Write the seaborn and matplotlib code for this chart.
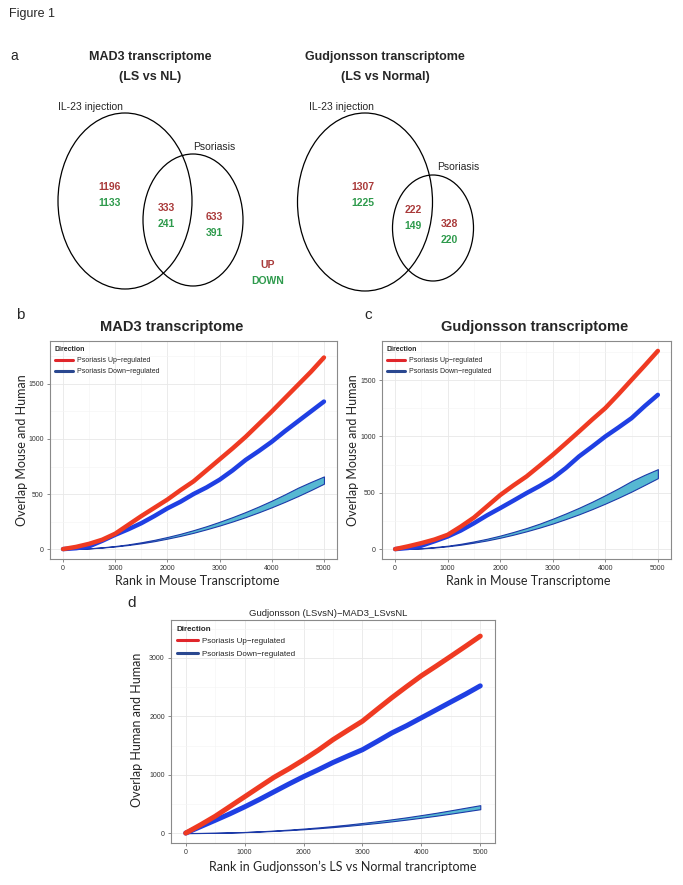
import numpy as np
import pandas as pd
import matplotlib
matplotlib.use("Agg")
import matplotlib.pyplot as plt
import seaborn as sns
from matplotlib.patches import Ellipse
from matplotlib.lines import Line2D
from matplotlib.ticker import MultipleLocator

# ---------------- data ----------------
mad3_up = [1196, 333, 633]
mad3_down = [1133, 241, 391]
gud_up = [1307, 222, 328]
gud_down = [1225, 149, 220]

rank = [0, 250, 500, 750, 1000, 1250, 1500, 1750, 2000, 2250, 2500,
        2750, 3000, 3250, 3500, 3750, 4000, 4250, 4500, 4750, 5000]

b_up = [0, 20, 48, 85, 140, 220, 300, 375, 450, 535, 615, 715, 815, 915,
        1020, 1135, 1250, 1370, 1490, 1610, 1740]
b_down = [0, 8, 25, 75, 130, 180, 235, 300, 370, 430, 500, 560, 630, 715,
          810, 890, 975, 1070, 1160, 1250, 1340]
b_lo = [0, 2, 6, 14, 24, 37, 53, 72, 95, 120, 148, 180, 214, 251, 291, 334,
        380, 429, 481, 536, 594]
b_hi = [0, 3, 7, 16, 28, 43, 62, 84, 110, 139, 172, 208, 248, 291, 337, 387,
        440, 497, 557, 610, 660]

c_up = [0, 25, 53, 85, 127, 200, 280, 380, 480, 565, 645, 740, 837, 940,
        1044, 1150, 1252, 1375, 1503, 1630, 1760]
c_down = [0, 10, 30, 70, 112, 165, 230, 300, 364, 430, 497, 560, 630, 720,
          823, 910, 1000, 1080, 1163, 1270, 1370]
c_lo = [0, 2, 6, 14, 25, 39, 57, 77, 101, 128, 158, 191, 227, 267, 309, 355,
        404, 456, 511, 570, 630]
c_hi = [0, 3, 8, 18, 30, 47, 68, 92, 120, 152, 187, 226, 270, 317, 367, 421,
        479, 540, 605, 660, 710]

d_up = [0, 140, 288, 455, 622, 790, 956, 1100, 1255, 1420, 1600, 1760, 1917,
        2120, 2320, 2510, 2695, 2860, 3029, 3200, 3374]
d_down = [0, 110, 219, 330, 449, 575, 708, 840, 967, 1085, 1209, 1320, 1428,
          1570, 1716, 1840, 1975, 2110, 2246, 2380, 2522]
d_lo = [0, 1, 4, 9, 16, 26, 37, 50, 65, 83, 102, 124, 148, 173, 201, 231, 263,
        297, 333, 371, 409]
d_hi = [0, 2, 5, 11, 19, 30, 43, 59, 77, 97, 120, 145, 173, 203, 236, 270,
        308, 347, 390, 434, 478]

UP_LABEL = "Psoriasis Up\u2212regulated"
DOWN_LABEL = "Psoriasis Down\u2212regulated"

# ---------------- style ----------------
sns.set_theme(style="white")
plt.rcParams["font.family"] = ["Liberation Sans", "DejaVu Sans"]

W, H = 683, 885
fig = plt.figure(figsize=(W / 100, H / 100), dpi=100)


def fx(x):
    return x / W


def fy(y):
    return 1 - y / H


def add_ax(l, t, r, b):
    return fig.add_axes([l / W, 1 - b / H, (r - l) / W, (b - t) / H])


# overlay in pixel coords for venn + annotations
ov = fig.add_axes([0, 0, 1, 1], zorder=-1)
ov.set_xlim(0, W)
ov.set_ylim(H, 0)
ov.axis("off")

RED_T = "#a93a3a"
GREEN_T = "#2e9a4c"

fig.text(fx(9), fy(14), "Figure 1", fontsize=9, va="center", ha="left")
fig.text(fx(10), fy(56), "a", fontsize=10, va="center", ha="left")


def venn(cx_big, cy_big, w_big, h_big, cx_s, cy_s, w_s, h_s,
         title1, title2, tx, il_pos, ps_pos, up, down, num_pos):
    ov.add_patch(Ellipse((cx_big, cy_big), w_big, h_big, fill=False,
                         ec="black", lw=0.9))
    ov.add_patch(Ellipse((cx_s, cy_s), w_s, h_s, fill=False,
                         ec="black", lw=0.9))
    ov.text(tx, 57, title1, fontsize=9, fontweight="bold", ha="center",
            va="center")
    ov.text(tx, 77, title2, fontsize=9, fontweight="bold", ha="center",
            va="center")
    ov.text(il_pos[0], il_pos[1], "IL-23 injection", fontsize=7.5,
            ha="left", va="center")
    ov.text(ps_pos[0], ps_pos[1], "Psoriasis", fontsize=7.5, ha="left",
            va="center")
    for (x, y), u, d in zip(num_pos, up, down):
        ov.text(x, y, str(u), color=RED_T, fontsize=7.5, fontweight="bold",
                ha="center", va="center")
        ov.text(x, y + 16, str(d), color=GREEN_T, fontsize=7.5,
                fontweight="bold", ha="center", va="center")


venn(125, 201, 134, 176, 193, 220, 100, 132,
     "MAD3 transcriptome", "(LS vs NL)", 150, (58, 107), (193, 147),
     mad3_up, mad3_down, [(110, 187), (166, 208), (214, 217)])
venn(365, 202, 135, 178, 433, 228, 81, 106,
     "Gudjonsson transcriptome", "(LS vs Normal)", 385, (309, 107),
     (437, 167), gud_up, gud_down, [(363, 187), (413, 210), (449, 224)])

ov.text(268, 265, "UP", color=RED_T, fontsize=7.5, fontweight="bold",
        ha="center", va="center")
ov.text(268, 281, "DOWN", color=GREEN_T, fontsize=7.5, fontweight="bold",
        ha="center", va="center")

# ---------------- line panels ----------------
RED = "#ef3a22"
BLUE = "#1f3fe3"
BAND_FILL = "#56b8d2"
BAND_EDGE = "#1c3aa8"
LABEL_FONT = ["Lato", "DejaVu Sans"]


def panel(ax, up, down, lo, hi, ylim, ymajor, yminor, legend_fs, lw):
    df = pd.DataFrame({
        "Rank": rank + rank,
        "Overlap": up + down,
        "Direction": [UP_LABEL] * len(rank) + [DOWN_LABEL] * len(rank),
    })
    ax.fill_between(rank, lo, hi, facecolor=BAND_FILL, edgecolor=BAND_EDGE,
                    lw=0.8, zorder=2)
    sns.lineplot(data=df, x="Rank", y="Overlap", hue="Direction",
                 hue_order=[DOWN_LABEL, UP_LABEL],
                 palette={UP_LABEL: RED, DOWN_LABEL: BLUE},
                 lw=lw, legend=False, ax=ax, zorder=3)
    ax.set_xlim(-250, 5250)
    ax.set_ylim(*ylim)
    ax.xaxis.set_major_locator(MultipleLocator(1000))
    ax.xaxis.set_minor_locator(MultipleLocator(500))
    ax.yaxis.set_major_locator(MultipleLocator(ymajor))
    ax.yaxis.set_minor_locator(MultipleLocator(yminor))
    ax.grid(True, which="major", color="#e8e8e8", lw=0.6)
    ax.grid(True, which="minor", color="#f4f4f4", lw=0.4)
    ax.set_axisbelow(True)
    for s in ax.spines.values():
        s.set_color("#8a8a8a")
        s.set_linewidth(0.8)
    ax.tick_params(axis="both", which="major", length=2.5, width=0.6,
                   color="#777777", labelsize=5, labelcolor="#333333",
                   pad=2, bottom=True, left=True)
    ax.tick_params(axis="both", which="minor", length=0)
    ax.set_xlabel("")
    ax.set_ylabel("")
    handles = [Line2D([], [], color="#e0262b", lw=2.2),
               Line2D([], [], color="#2a4890", lw=2.2)]
    leg = ax.legend(handles=handles, labels=[UP_LABEL, DOWN_LABEL],
                    title="Direction", loc="upper left", frameon=False,
                    fontsize=legend_fs, title_fontsize=legend_fs,
                    handlelength=2.6, handletextpad=0.6, labelspacing=0.6,
                    borderaxespad=0.3, alignment="left")
    leg.get_title().set_fontweight("bold")


# panel b
axb = add_ax(50, 341, 337, 559)
panel(axb, b_up, b_down, b_lo, b_hi, (-90, 1890), 500, 250, 5, 3.2)
fig.text(fx(20), fy(315), "b", fontsize=11, ha="center", va="center")
fig.text(fx(172), fy(327), "MAD3 transcriptome", fontsize=10.5,
         fontweight="bold", ha="center", va="center")
fig.text(fx(197), fy(581), "Rank in Mouse Transcriptome", fontsize=9,
         family=LABEL_FONT, ha="center", va="center")
fig.text(fx(22), fy(450), "Overlap Mouse and Human", fontsize=9,
         family=LABEL_FONT, ha="center", va="center", rotation=90)

# panel c
axc = add_ax(382, 341, 671, 559)
panel(axc, c_up, c_down, c_lo, c_hi, (-88, 1848), 500, 250, 5, 3.2)
fig.text(fx(368), fy(315), "c", fontsize=11, ha="center", va="center")
fig.text(fx(535), fy(327), "Gudjonsson transcriptome", fontsize=10.5,
         fontweight="bold", ha="center", va="center")
fig.text(fx(528), fy(581), "Rank in Mouse Transcriptome", fontsize=9,
         family=LABEL_FONT, ha="center", va="center")
fig.text(fx(353), fy(450), "Overlap Mouse and Human", fontsize=9,
         family=LABEL_FONT, ha="center", va="center", rotation=90)

# panel d
axd = add_ax(171, 620, 495, 843)
panel(axd, d_up, d_down, d_lo, d_hi, (-170, 3650), 1000, 500, 5.8, 3.6)
fig.text(fx(132), fy(603), "d", fontsize=11, ha="center", va="center")
fig.text(fx(328), fy(613), "Gudjonsson (LSvsN)\u2212MAD3_LSvsNL",
         fontsize=6.8, ha="center", va="center")
fig.text(fx(343), fy(867), "Rank in Gudjonsson\u2019s LS vs Normal trancriptome",
         fontsize=9, family=LABEL_FONT, ha="center", va="center")
fig.text(fx(137), fy(730), "Overlap Human and Human", fontsize=9,
         family=LABEL_FONT, ha="center", va="center", rotation=90)

fig.savefig("out.png", dpi=100)
